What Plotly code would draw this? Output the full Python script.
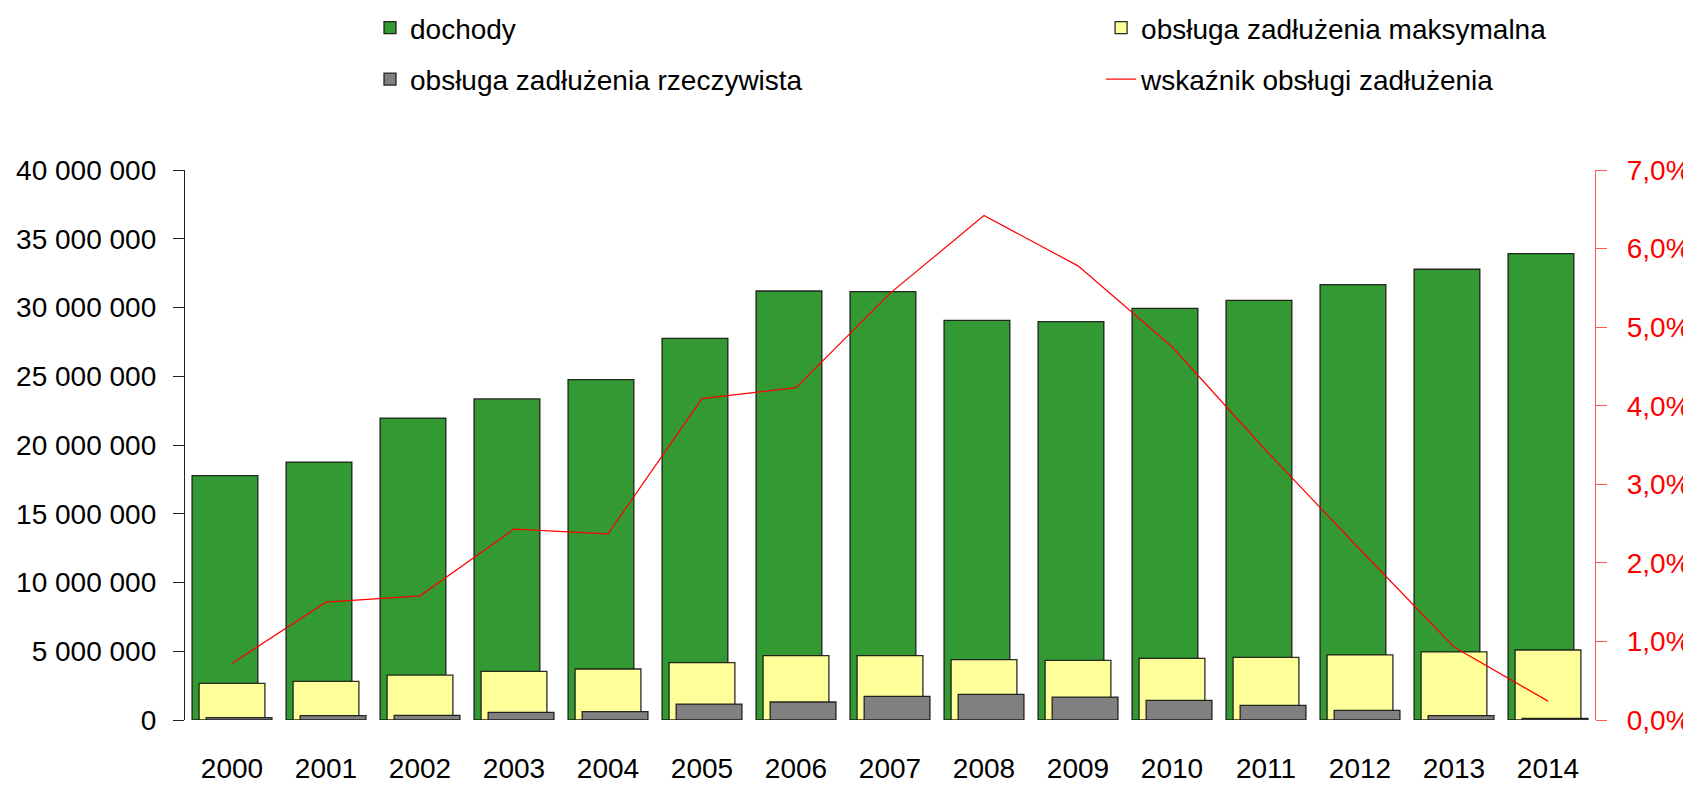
import plotly.graph_objects as go

years = list(range(2000, 2015))
dochody = [17.77e6, 18.76e6, 21.96e6, 23.35e6, 24.75e6, 27.76e6, 31.20e6, 31.15e6,
           29.07e6, 28.97e6, 29.94e6, 30.52e6, 31.66e6, 32.78e6, 33.92e6]
obsl_max = [2.67e6, 2.81e6, 3.27e6, 3.54e6, 3.71e6, 4.17e6, 4.68e6, 4.68e6,
            4.39e6, 4.34e6, 4.48e6, 4.56e6, 4.73e6, 4.95e6, 5.09e6]
obsl_rz = [0.17e6, 0.32e6, 0.34e6, 0.56e6, 0.61e6, 1.16e6, 1.31e6, 1.72e6,
           1.87e6, 1.67e6, 1.43e6, 1.07e6, 0.70e6, 0.32e6, 0.12e6]
wskaznik = [0.0072, 0.0150, 0.0158, 0.0243, 0.0237, 0.0409, 0.0423, 0.0543,
            0.0642, 0.0578, 0.0475, 0.0343, 0.0217, 0.0093, 0.0024]

FONT = "Liberation Sans, Arial, sans-serif"
FS = 28
BW = 0.70
SH = 0.075
edge = "rgba(20,20,20,0.9)"

fig = go.Figure()
fig.add_trace(go.Bar(x=years, y=dochody, name="dochody", width=BW, offset=-BW / 2 - SH,
                     marker=dict(color="#339933", line=dict(color=edge, width=1.3)),
                     legend="legend", legendgroup="a", legendrank=1))
fig.add_trace(go.Bar(x=years, y=obsl_max, name="obsługa zadłużenia maksymalna", width=BW,
                     offset=-BW / 2, marker=dict(color="#FFFF99", line=dict(color=edge, width=1.3)),
                     legend="legend2", legendgroup="b", legendrank=1))
fig.add_trace(go.Bar(x=years, y=obsl_rz, name="obsługa zadłużenia rzeczywista", width=BW,
                     offset=-BW / 2 + SH, marker=dict(color="#808080", line=dict(color=edge, width=1.3)),
                     legend="legend", legendgroup="c", legendrank=2))
fig.add_trace(go.Scatter(x=years, y=wskaznik, name="wskaźnik obsługi zadłużenia", mode="lines",
                         line=dict(color="#FF0000", width=1.2), yaxis="y2",
                         legend="legend2", legendgroup="d", legendrank=2))

legend_common = dict(orientation="v", font=dict(family=FONT, size=FS, color="#000"),
                     bgcolor="rgba(0,0,0,0)", tracegroupgap=12, yanchor="top", xanchor="left",
                     itemwidth=30)

# page body has an 8px default margin; size the figure so the plot area lands where the reference has it
fig.update_layout(
    width=1683, height=778,
    margin=dict(l=177, r=96, t=162, b=66, autoexpand=False),
    paper_bgcolor="white", plot_bgcolor="white",
    barmode="overlay",
    separators=", ",
    font=dict(family=FONT, size=FS, color="#000"),
    xaxis=dict(range=[1999.5, 2014.5], tickmode="array", tickvals=years,
               ticktext=[str(y) for y in years], showline=False, showgrid=False,
               zeroline=False, ticks="", ticklabelstandoff=29, automargin=False,
               tickfont=dict(family=FONT, size=FS, color="#000")),
    yaxis=dict(range=[0, 40e6], tickmode="linear", tick0=0, dtick=5e6, tickformat=",d",
               showgrid=False, zeroline=False, showline=True, linecolor="#222", linewidth=1.3,
               ticks="outside", ticklen=11, tickcolor="#222", tickwidth=1.3, automargin=False,
               ticklabelstandoff=11, tickfont=dict(family=FONT, size=FS, color="#000")),
    yaxis2=dict(range=[0, 0.07], overlaying="y", side="right", tickmode="linear", tick0=0,
                dtick=0.01, tickformat=".1%", showgrid=False, zeroline=False, showline=True,
                linecolor="rgba(255,60,60,0.85)", linewidth=1.3, ticks="outside", ticklen=11,
                tickcolor="rgba(255,60,60,0.85)", tickwidth=1.3, ticklabelstandoff=14,
                automargin=False,
                tickfont=dict(family=FONT, size=FS, color="#FF0000")),
    legend=dict(x=0.1312, y=1.3036, **legend_common),
    legend2=dict(x=0.6497, y=1.3036, **legend_common),
)

fig.write_html("out.html")
